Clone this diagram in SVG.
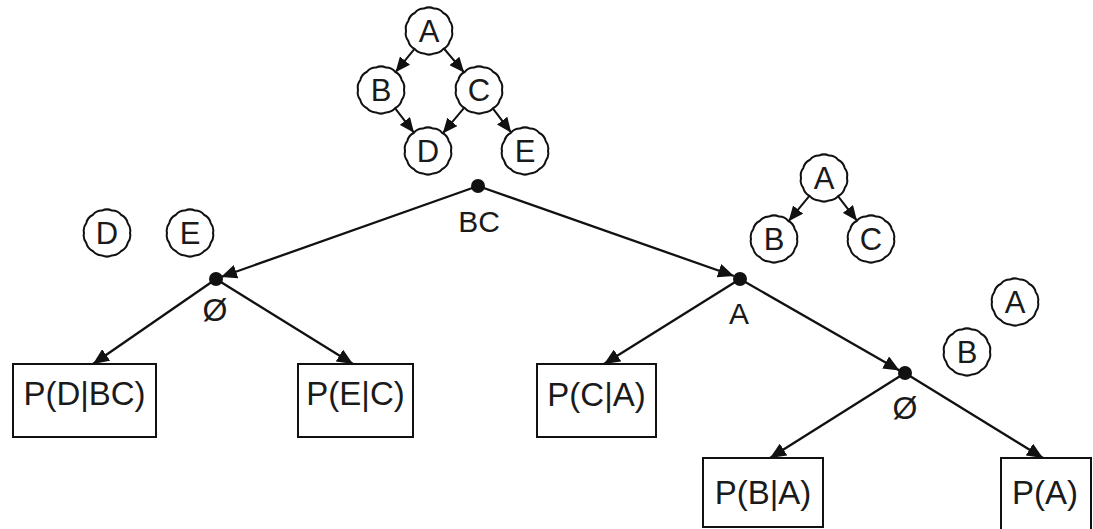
<svg xmlns="http://www.w3.org/2000/svg" width="1093" height="529" viewBox="0 0 1093 529">
<style>
.bn{fill:#fff;stroke:#111;stroke-width:2}
.lt{font-family:"Liberation Sans",Arial,sans-serif;font-size:31px;fill:#1a1a1a;text-anchor:middle}
.tl{font-family:"Liberation Sans",Arial,sans-serif;font-size:30px;fill:#1a1a1a;text-anchor:middle}
.bt{font-family:"Liberation Sans",Arial,sans-serif;font-size:33px;fill:#1a1a1a;text-anchor:middle}
.box{fill:#fff;stroke:#111;stroke-width:2}
.e{stroke:#111;stroke-width:2.3;fill:none}
.ce{stroke:#111;stroke-width:2;fill:none}
.dot{fill:#111}
</style>
<defs>
<path id="bump" d="M23,0 A12,12 0 0 1 20.72,9.98 A12,12 0 0 1 14.34,17.98 A12,12 0 0 1 5.12,22.42 A12,12 0 0 1 -5.12,22.42 A12,12 0 0 1 -14.34,17.98 A12,12 0 0 1 -20.72,9.98 A12,12 0 0 1 -23,0 A12,12 0 0 1 -20.72,-9.98 A12,12 0 0 1 -14.34,-17.98 A12,12 0 0 1 -5.12,-22.42 A12,12 0 0 1 5.12,-22.42 A12,12 0 0 1 14.34,-17.98 A12,12 0 0 1 20.72,-9.98 A12,12 0 0 1 23,0 Z"/>
<marker id="ah" markerUnits="userSpaceOnUse" markerWidth="18" markerHeight="14" refX="16" refY="7" orient="auto">
<path d="M0,0 L16,7 L0,14 Z" fill="#111"/>
</marker>
<marker id="ahs" markerUnits="userSpaceOnUse" markerWidth="17" markerHeight="13" refX="15" refY="6.5" orient="auto">
<path d="M0,0 L15,6.5 L0,13 Z" fill="#111"/>
</marker>
</defs>
<g id="connectors">
<line class="ce" x1="414.5" y1="48.8" x2="395.5" y2="72.2" marker-end="url(#ahs)"/>
<line class="ce" x1="443.9" y1="48.5" x2="464.1" y2="72.4" marker-end="url(#ahs)"/>
<line class="ce" x1="395.0" y1="108.2" x2="414.0" y2="132.8" marker-end="url(#ahs)"/>
<line class="ce" x1="464.3" y1="107.6" x2="442.7" y2="133.4" marker-end="url(#ahs)"/>
<line class="ce" x1="492.8" y1="108.4" x2="511.2" y2="132.6" marker-end="url(#ahs)"/>
<line class="ce" x1="809.4" y1="195.8" x2="788.6" y2="221.2" marker-end="url(#ahs)"/>
<line class="ce" x1="838.0" y1="196.2" x2="857.0" y2="220.8" marker-end="url(#ahs)"/>
<line class="e" x1="478" y1="186" x2="221" y2="277" marker-end="url(#ah)"/>
<line class="e" x1="478" y1="186" x2="734" y2="276" marker-end="url(#ah)"/>
<line class="e" x1="216" y1="279" x2="93" y2="364" marker-end="url(#ah)"/>
<line class="e" x1="216" y1="279" x2="353" y2="364" marker-end="url(#ah)"/>
<line class="e" x1="740" y1="279" x2="604" y2="364" marker-end="url(#ah)"/>
<line class="e" x1="740" y1="279" x2="899.5" y2="370.5" marker-end="url(#ah)"/>
<line class="e" x1="905" y1="373" x2="770" y2="458" marker-end="url(#ah)"/>
<line class="e" x1="905" y1="373" x2="1043" y2="458" marker-end="url(#ah)"/>
</g>
<g id="g1A"><use href="#bump" class="bn" transform="translate(429,31)"/><text class="lt" x="429" y="42">A</text></g>
<g id="g1B"><use href="#bump" class="bn" transform="translate(381,90)"/><text class="lt" x="381" y="101">B</text></g>
<g id="g1C"><use href="#bump" class="bn" transform="translate(479,90)"/><text class="lt" x="479" y="101">C</text></g>
<g id="g1D"><use href="#bump" class="bn" transform="translate(428,151)"/><text class="lt" x="428" y="162">D</text></g>
<g id="g1E"><use href="#bump" class="bn" transform="translate(525,151)"/><text class="lt" x="525" y="162">E</text></g>
<g id="g2A"><use href="#bump" class="bn" transform="translate(824,178)"/><text class="lt" x="824" y="189">A</text></g>
<g id="g2B"><use href="#bump" class="bn" transform="translate(774,239)"/><text class="lt" x="774" y="250">B</text></g>
<g id="g2C"><use href="#bump" class="bn" transform="translate(871,239)"/><text class="lt" x="871" y="250">C</text></g>
<g id="g3D"><use href="#bump" class="bn" transform="translate(107,233)"/><text class="lt" x="107" y="244">D</text></g>
<g id="g3E"><use href="#bump" class="bn" transform="translate(190,233)"/><text class="lt" x="190" y="244">E</text></g>
<g id="g4A"><use href="#bump" class="bn" transform="translate(1015,302)"/><text class="lt" x="1015" y="313">A</text></g>
<g id="g4B"><use href="#bump" class="bn" transform="translate(967,352)"/><text class="lt" x="967" y="363">B</text></g>
<g id="tBC"><circle class="dot" cx="478" cy="186" r="7"/><text class="tl" x="479" y="232">BC</text></g>
<g id="tN1"><circle class="dot" cx="216" cy="279" r="7"/><text class="tl" x="215" y="321" style="font-size:32px">Ø</text></g>
<g id="tA"><circle class="dot" cx="740" cy="279" r="7"/><text class="tl" x="739" y="324">A</text></g>
<g id="tN2"><circle class="dot" cx="905" cy="373" r="7"/><text class="tl" x="905" y="419" style="font-size:32px">Ø</text></g>
<g id="bDBC"><rect class="box" x="13" y="364" width="143" height="73"/><text class="bt" x="84.5" y="405">P(D|BC)</text></g>
<g id="bEC"><rect class="box" x="298" y="364" width="115" height="73"/><text class="bt" x="355.5" y="405">P(E|C)</text></g>
<g id="bCA"><rect class="box" x="537" y="364" width="119" height="73"/><text class="bt" x="596.5" y="406">P(C|A)</text></g>
<g id="bBA"><rect class="box" x="703" y="458" width="120" height="69"/><text class="bt" x="763" y="504">P(B|A)</text></g>
<g id="bA"><rect class="box" x="1001" y="458" width="90" height="80"/><text class="bt" x="1045" y="504">P(A)</text></g>
</svg>
